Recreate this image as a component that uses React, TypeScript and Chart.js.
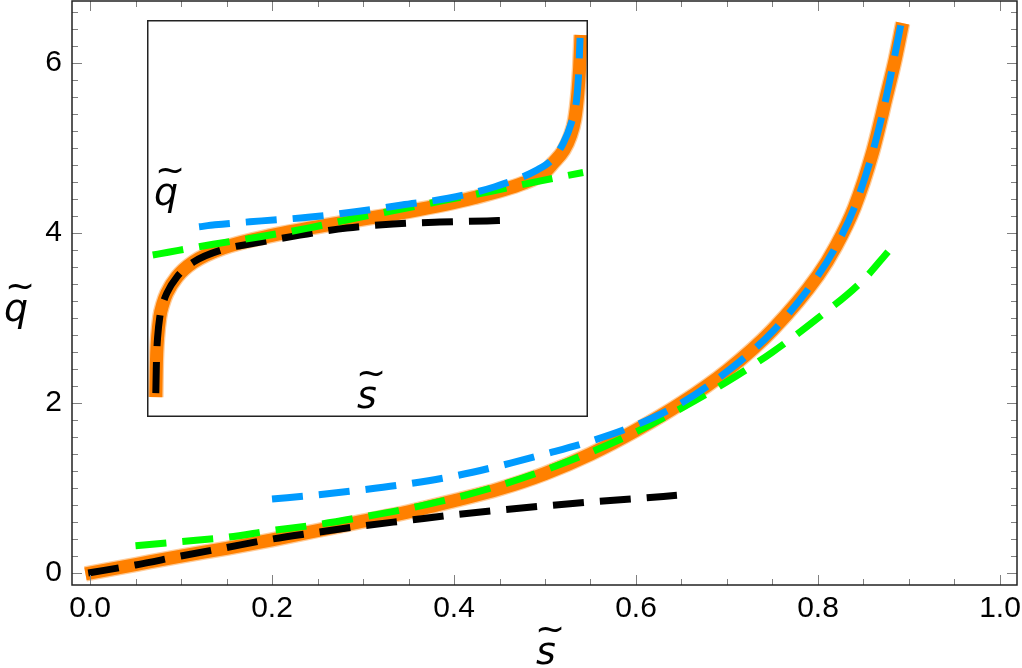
import React, { useEffect, useRef } from 'react';
import { Chart, registerables } from 'chart.js';
Chart.register(...registerables);

// ---- main plot data ----
const sExact = [-0.005, 0.05, 0.1, 0.15, 0.2, 0.25, 0.3, 0.35, 0.4, 0.45, 0.5, 0.55, 0.6, 0.65, 0.7, 0.75, 0.8, 0.82, 0.84, 0.86, 0.875, 0.885, 0.893];
const qExact = [-0.01, 0.1, 0.2, 0.29, 0.39, 0.5, 0.61, 0.72, 0.85, 0.99, 1.17, 1.4, 1.68, 2.0, 2.38, 2.86, 3.5, 3.85, 4.3, 4.95, 5.6, 6.05, 6.47];

const sSmall = [-0.002, 0.05, 0.1, 0.15, 0.2, 0.25, 0.3, 0.35, 0.4, 0.45, 0.5, 0.55, 0.6, 0.645];
const qSmall = [0.0, 0.095, 0.2, 0.3, 0.4, 0.48, 0.555, 0.62, 0.685, 0.74, 0.79, 0.835, 0.875, 0.915];

const sMid = [0.05, 0.1, 0.15, 0.2, 0.25, 0.3, 0.35, 0.4, 0.45, 0.5, 0.55, 0.6, 0.65, 0.7, 0.75, 0.8, 0.85, 0.877];
const qMid = [0.32, 0.37, 0.42, 0.5, 0.57, 0.66, 0.76, 0.88, 1.03, 1.21, 1.42, 1.66, 1.94, 2.25, 2.6, 3.0, 3.45, 3.78];

const sLarge = [0.2, 0.25, 0.3, 0.35, 0.4, 0.45, 0.5, 0.55, 0.6, 0.65, 0.7, 0.75, 0.8, 0.82, 0.84, 0.86, 0.875, 0.891];
const qLarge = [0.87, 0.92, 0.98, 1.05, 1.14, 1.26, 1.4, 1.55, 1.74, 2.0, 2.37, 2.84, 3.5, 3.85, 4.3, 4.95, 5.6, 6.45];

const xTickValues = [0, 0.2, 0.4, 0.6, 0.8, 1.0];
const yTickValues = [0, 2, 4, 6];

// ---- inset data (normalised inset units) ----
const uExact = [0.020, 0.021, 0.022, 0.024, 0.029, 0.036, 0.045, 0.068, 0.105, 0.173, 0.286, 0.438, 0.590, 0.740, 0.853, 0.900, 0.921, 0.945, 0.959, 0.970, 0.977, 0.981, 0.984];
const vExact = [0.050, 0.120, 0.160, 0.200, 0.252, 0.285, 0.312, 0.353, 0.390, 0.426, 0.458, 0.489, 0.517, 0.552, 0.589, 0.615, 0.640, 0.672, 0.705, 0.750, 0.816, 0.880, 0.962];

const uSmall = [0.020, 0.021, 0.022, 0.024, 0.029, 0.036, 0.045, 0.068, 0.105, 0.173, 0.245, 0.347, 0.453, 0.558, 0.664, 0.771, 0.805];
const vSmall = [0.060, 0.120, 0.160, 0.200, 0.252, 0.285, 0.312, 0.353, 0.390, 0.422, 0.438, 0.458, 0.476, 0.486, 0.491, 0.494, 0.495];

const uLarge = [0.118, 0.154, 0.26, 0.365, 0.472, 0.578, 0.683, 0.789, 0.884, 0.920, 0.944, 0.962, 0.974, 0.979, 0.982];
const vLarge = [0.479, 0.484, 0.494, 0.503, 0.517, 0.534, 0.551, 0.580, 0.622, 0.650, 0.690, 0.740, 0.798, 0.870, 0.955];

const uMid = [0.013, 0.048, 0.150, 0.256, 0.362, 0.468, 0.574, 0.680, 0.778, 0.884, 0.989];
const vMid = [0.408, 0.415, 0.435, 0.454, 0.475, 0.500, 0.523, 0.547, 0.568, 0.593, 0.616];

const toPts = (xs: number[], ys: number[]) => xs.map((x, i) => ({ x, y: ys[i] }));

const ORANGE = '#FF8000';
const BLUE = '#009BFF';
const GREEN = '#00FF00';
const BLACK = '#000000';
const DASH = [31, 16];

function lineSets(ex: any[], sm: any[], md: any[], lg: any[]) {
  const common: any = {
    showLine: true,
    pointRadius: 0,
    fill: false,
    borderCapStyle: 'butt',
    borderJoinStyle: 'round',
    cubicInterpolationMode: 'monotone',
  };
  return [
    { ...common, data: ex, borderColor: 'rgba(255,128,0,0.4)', borderWidth: 15.5, order: 6 },
    { ...common, data: ex, borderColor: ORANGE, borderWidth: 13, order: 5 },
    { ...common, data: sm, borderColor: BLACK, borderWidth: 7, borderDash: DASH, order: 3 },
    { ...common, data: md, borderColor: GREEN, borderWidth: 7, borderDash: DASH, order: 2 },
    { ...common, data: lg, borderColor: BLUE, borderWidth: 7, borderDash: DASH, order: 1 },
  ];
}

const LETTER_FONT = 'italic 38px "DejaVu Sans"';
const TILDE_FONT = '36px "DejaVu Sans"';

function tildeLetter(ctx: CanvasRenderingContext2D, letter: string, cx: number, baseline: number) {
  ctx.font = LETTER_FONT;
  ctx.textAlign = 'center';
  ctx.textBaseline = 'alphabetic';
  ctx.fillText(letter, cx, baseline);
  ctx.font = TILDE_FONT;
  ctx.fillText('~', cx + 4, baseline - 23);
}

const frameTicks = {
  id: 'frameTicks',
  afterDatasetsDraw(chart: any) {
    const { ctx, chartArea: a, scales } = chart;
    const x = scales.x, y = scales.y;
    ctx.save();
    ctx.strokeStyle = '#808080';
    ctx.lineWidth = 1;
    for (let k = Math.ceil(x.min / 0.05); k * 0.05 <= x.max + 1e-9; k++) {
      const len = k % 4 === 0 ? 10 : 6;
      const px = Math.round(x.getPixelForValue(k * 0.05)) + 0.5;
      ctx.beginPath();
      ctx.moveTo(px, a.bottom); ctx.lineTo(px, a.bottom - len);
      ctx.moveTo(px, a.top); ctx.lineTo(px, a.top + len);
      ctx.stroke();
    }
    for (let k = Math.ceil(y.min / 0.2); k * 0.2 <= y.max + 1e-9; k++) {
      const len = k % 10 === 0 ? 10 : 6;
      const py = Math.round(y.getPixelForValue(k * 0.2)) + 0.5;
      ctx.beginPath();
      ctx.moveTo(a.left, py); ctx.lineTo(a.left + len, py);
      ctx.moveTo(a.right, py); ctx.lineTo(a.right - len, py);
      ctx.stroke();
    }
    ctx.strokeStyle = '#222';
    ctx.lineWidth = 1.5;
    ctx.strokeRect(a.left, a.top, a.right - a.left, a.bottom - a.top);
    ctx.fillStyle = '#000';
    tildeLetter(ctx, 's', 546, 664);
    tildeLetter(ctx, 'q', 16, 321);
    ctx.restore();
  },
};

const insetFrame = {
  id: 'insetFrame',
  afterDatasetsDraw(chart: any) {
    const { ctx, width, height } = chart;
    ctx.save();
    ctx.strokeStyle = '#222';
    ctx.lineWidth = 1.5;
    ctx.strokeRect(0.75, 0.75, width - 1.5, height - 1.5);
    ctx.fillStyle = '#000';
    tildeLetter(ctx, 'q', 19, 185);
    tildeLetter(ctx, 's', 220, 388);
    ctx.restore();
  },
};

export default function App() {
  const mainRef = useRef<HTMLCanvasElement>(null);
  const insetRef = useRef<HTMLCanvasElement>(null);

  useEffect(() => {
    document.body.style.margin = '0';
    const tickFont = { family: '"Liberation Sans", Arial, sans-serif', size: 30 };
    const main = new Chart(mainRef.current!, {
      type: 'scatter',
      data: {
        datasets: lineSets(
          toPts(sExact, qExact),
          toPts(sSmall, qSmall),
          toPts(sMid, qMid),
          toPts(sLarge, qLarge)
        ) as any,
      },
      options: {
        animation: false,
        responsive: false,
        events: [],
        layout: { padding: { top: 1, right: 5, left: 0, bottom: 0 } },
        plugins: { legend: { display: false }, tooltip: { enabled: false } },
        scales: {
          x: {
            type: 'linear',
            min: -0.0198,
            max: 1.0187,
            grid: { display: false, drawTicks: false },
            border: { display: false },
            afterBuildTicks: (s: any) => { s.ticks = xTickValues.map((v) => ({ value: v })); },
            afterFit: (s: any) => { s.height = 83; s.paddingLeft = 0; s.paddingRight = 0; },
            ticks: {
              font: tickFont,
              color: '#000',
              padding: 6,
              maxRotation: 0,
              autoSkip: false,
              callback: (v: any) => Number(v).toFixed(1),
            },
          },
          y: {
            type: 'linear',
            min: -0.141,
            max: 6.73,
            grid: { display: false, drawTicks: false },
            border: { display: false },
            afterBuildTicks: (s: any) => { s.ticks = yTickValues.map((v) => ({ value: v })); },
            afterFit: (s: any) => { s.width = 72; s.paddingTop = 0; s.paddingBottom = 0; },
            ticks: {
              font: tickFont,
              color: '#000',
              padding: 10,
              autoSkip: false,
              callback: (v: any) => String(Math.round(Number(v))),
            },
          },
        },
      },
      plugins: [frameTicks],
    });

    const inset = new Chart(insetRef.current!, {
      type: 'scatter',
      data: {
        datasets: lineSets(
          toPts(uExact, vExact),
          toPts(uSmall, vSmall),
          toPts(uMid, vMid),
          toPts(uLarge, vLarge)
        ) as any,
      },
      options: {
        animation: false,
        responsive: false,
        events: [],
        layout: { padding: 0 },
        plugins: { legend: { display: false }, tooltip: { enabled: false } },
        scales: {
          x: { type: 'linear', min: 0, max: 1, display: false },
          y: { type: 'linear', min: 0, max: 1, display: false },
        },
      },
      plugins: [insetFrame],
    });

    return () => {
      main.destroy();
      inset.destroy();
    };
  }, []);

  return (
    <div style={{ position: 'relative', width: 1022, height: 668, background: '#fff' }}>
      <canvas ref={mainRef} width={1022} height={668} style={{ position: 'absolute', left: 0, top: 0, display: 'block' }} />
      <canvas
        ref={insetRef}
        width={441}
        height={397}
        style={{ position: 'absolute', left: 147, top: 20, display: 'block', background: '#fff' }}
      />
    </div>
  );
}
